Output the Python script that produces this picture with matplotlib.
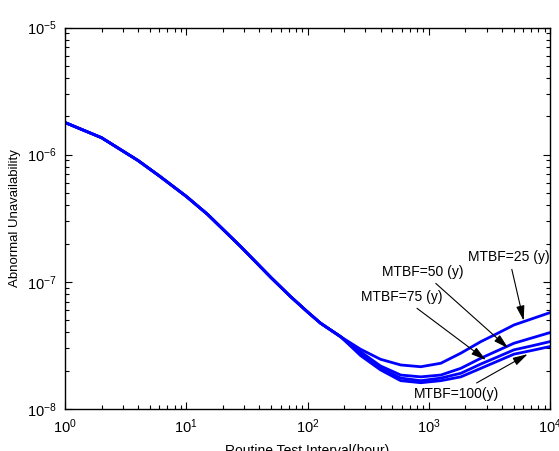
import matplotlib
matplotlib.use("Agg")
import matplotlib.pyplot as plt
from matplotlib.ticker import LogLocator, NullFormatter

plt.rcParams['font.family'] = ['Liberation Sans', 'DejaVu Sans']
plt.rcParams['mathtext.default'] = 'regular'

# Routine test interval (hours)
interval = [1, 2, 4, 6, 10, 15, 28, 50, 72, 100, 128, 187,
            274, 400, 587, 859, 1256, 1838, 2690, 3700, 5040, 7000, 10000]

# Shared part of the curves (short intervals)
common = [1.79e-6, 1.36e-6, 9.0e-7, 6.8e-7, 4.7e-7, 3.39e-7, 1.90e-7, 1.08e-7,
          7.7e-8, 5.8e-8, 4.73e-8, 3.71e-8]

# Abnormal unavailability for each MTBF (years), long intervals
tail_25 = [2.95e-8, 2.46e-8, 2.22e-8, 2.15e-8, 2.29e-8, 2.75e-8, 3.39e-8,
           3.94e-8, 4.58e-8, 5.10e-8, 5.73e-8]
tail_50 = [2.82e-8, 2.18e-8, 1.85e-8, 1.79e-8, 1.85e-8, 2.09e-8, 2.51e-8,
           2.88e-8, 3.29e-8, 3.61e-8, 3.99e-8]
tail_75 = [2.72e-8, 2.09e-8, 1.75e-8, 1.67e-8, 1.75e-8, 1.91e-8, 2.26e-8,
           2.57e-8, 2.92e-8, 3.13e-8, 3.39e-8]
tail_100 = [2.63e-8, 2.03e-8, 1.67e-8, 1.61e-8, 1.67e-8, 1.79e-8, 2.09e-8,
            2.38e-8, 2.70e-8, 2.88e-8, 3.10e-8]

series = {
    25: common + tail_25,
    50: common + tail_50,
    75: common + tail_75,
    100: common + tail_100,
}

fig = plt.figure(figsize=(5.59, 4.51), dpi=100)
ax = fig.add_axes([0.1163, 0.0931, 0.8677, 0.8459])

for mtbf, vals in series.items():
    ax.plot(interval, vals, color='#0000ff', lw=2.0,
            solid_capstyle='round', solid_joinstyle='round')

ax.set_xscale('log')
ax.set_yscale('log')
ax.set_xlim(1, 1e4)
ax.set_ylim(1e-8, 1e-5)

ax.xaxis.set_major_locator(LogLocator(base=10, numticks=10))
ax.yaxis.set_major_locator(LogLocator(base=10, numticks=10))
ax.xaxis.set_minor_locator(LogLocator(base=10, subs=range(2, 10), numticks=20))
ax.yaxis.set_minor_locator(LogLocator(base=10, subs=range(2, 10), numticks=20))
ax.xaxis.set_minor_formatter(NullFormatter())
ax.yaxis.set_minor_formatter(NullFormatter())

ax.tick_params(which='both', direction='in', top=True, right=True, labelsize=10.5, width=0.8)
ax.tick_params(which='major', length=5, pad=6)
ax.tick_params(which='minor', length=3)
for s in ax.spines.values():
    s.set_linewidth(1.0)

ax.set_xlabel('Routine Test Interval(hour)', fontsize=10, labelpad=6)
ax.set_ylabel('Abnormal Unavailability', fontsize=9.5, labelpad=4)

arrow = dict(arrowstyle='-|>,head_length=0.9,head_width=0.25', color='black',
             lw=0.8, shrinkA=2, shrinkB=0)

ax.annotate('MTBF=25 (y)', xy=(6060, 4.95e-8), xytext=(4580, 1.57e-7),
            ha='center', va='center', fontsize=10, arrowprops=arrow)
ax.annotate('MTBF=50 (y)', xy=(4520, 3.01e-8), xytext=(892, 1.20e-7),
            ha='center', va='center', fontsize=10, arrowprops=arrow)
ax.annotate('MTBF=75 (y)', xy=(2960, 2.43e-8), xytext=(598, 7.62e-8),
            ha='center', va='center', fontsize=10, arrowprops=arrow)
ax.annotate('MTBF=100(y)', xy=(6540, 2.70e-8), xytext=(1703, 1.31e-8),
            ha='center', va='center', fontsize=10, arrowprops=arrow)

fig.savefig('out.png', dpi=100)
